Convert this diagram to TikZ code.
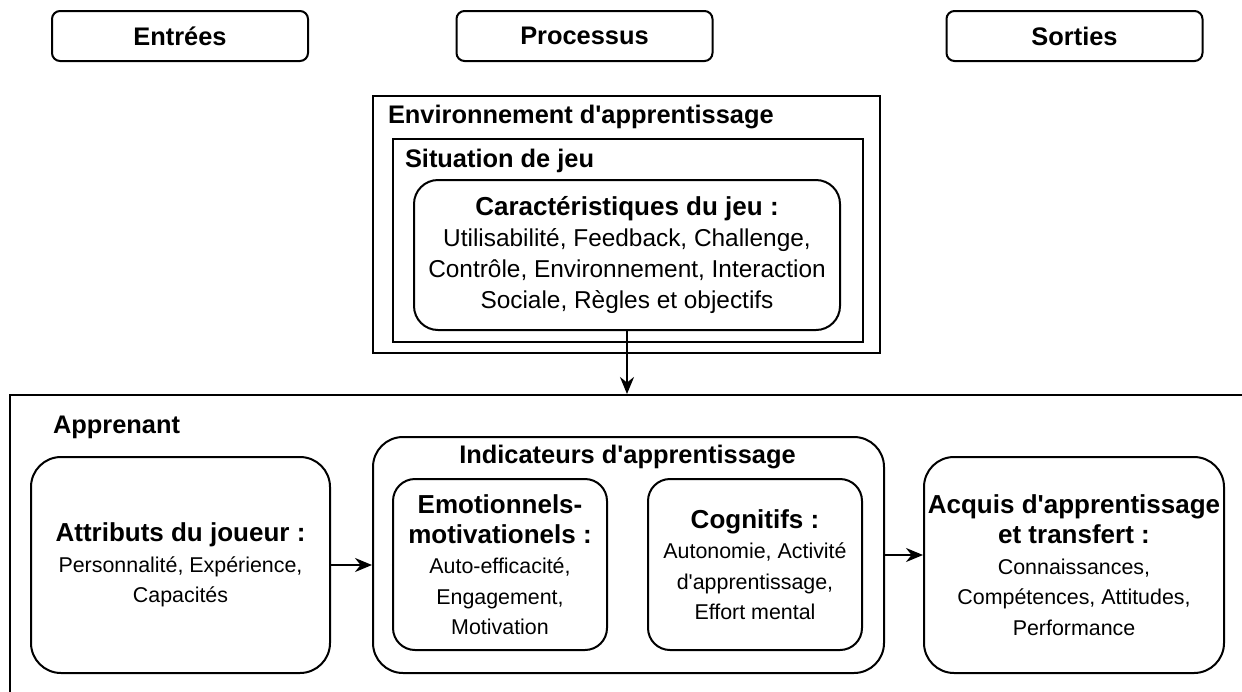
\documentclass[tikz,border=0pt]{standalone}
\usepackage{fontspec}
\setmainfont{Liberation Sans}[Ligatures=TeXOff]
\usepackage{tikz}
\usetikzlibrary{arrows.meta}
\newcommand{\ttl}[1]{{\bfseries\fontsize{13}{15.5}\selectfont #1}}
\tikzset{
    head/.style={draw, rounded corners=4pt, minimum width=128pt, minimum height=25pt,
        font=\bfseries\fontsize{12.7}{15}\selectfont},
    frame/.style={draw, anchor=north west, inner sep=0pt},
    card/.style={draw, rounded corners=15pt, align=center, inner sep=0pt,
        font=\fontsize{10.7}{15.2}\selectfont},
    lbl/.style={anchor=base west, inner sep=0pt, font=\bfseries\fontsize{12.7}{15}\selectfont},
    flow/.style={-{Stealth[length=8.5pt,width=7pt]}}
}

\begin{document}
\begin{tikzpicture}[x=0.5pt, y=-0.5pt, line width=1pt]
		\useasboundingbox (0,0) rectangle (1242,691);

		% top row
		\node[head] (entrees) at (180,36) {Entrées};
		\node[head] (processus) at (584.5,36) {Processus};
		\node[head] (sorties) at (1074.5,36) {Sorties};

		% environment
		\node[frame, minimum width=253.5pt, minimum height=128.5pt] (env) at (372,95) {};
		\node[lbl] (envlbl) at (387,123) {Environnement d'apprentissage};
		\node[frame, minimum width=235pt, minimum height=101.5pt] (sit) at (392,138) {};
		\node[lbl] (sitlbl) at (404,167) {Situation de jeu};
		\node[card, rounded corners=12pt, minimum width=213pt, minimum height=75pt,
		    font=\fontsize{12.2}{15.5}\selectfont] (carac) at (627,255)
		    {\ttl{Caractéristiques du jeu :}\\Utilisabilité, Feedback, Challenge,\\
		     Contrôle, Environnement, Interaction\\Sociale, Règles et objectifs};

		% learner
		\node[frame, minimum width=640pt, minimum height=170pt] (app) at (9,394) {};
		\node[lbl] (applbl) at (52,433) {Apprenant};
		\node[card, minimum width=149.5pt, minimum height=108pt] (attr) at (180.5,565)
		    {\ttl{Attributs du joueur :}\\Personnalité, Expérience,\\Capacités};
		\node[card, anchor=north west, minimum width=255.5pt, minimum height=118pt] (ind) at (372,436) {};
		\node[anchor=base, inner sep=0pt, font=\bfseries\fontsize{12.7}{15}\selectfont] (indlbl) at (627.5,463)
		    {Indicateurs d'apprentissage};
		\node[card, rounded corners=11pt, minimum width=107pt, minimum height=85.5pt] (emo) at (500,564.5)
		    {\ttl{Emotionnels-}\\\ttl{motivationels :}\\Auto-efficacité,\\Engagement,\\Motivation};
		\node[card, rounded corners=11pt, minimum width=107pt, minimum height=85.5pt] (cog) at (755,564.5)
		    {\ttl{Cognitifs :}\\Autonomie, Activité\\d'apprentissage,\\Effort mental};
		\node[card, minimum width=150pt, minimum height=108pt] (acq) at (1074,565)
		    {\ttl{Acquis d'apprentissage}\\\ttl{et transfert :}\\Connaissances,\\Compétences, Attitudes,\\Performance};

		% arrows
		\draw[flow] (carac.south) -- (carac.south |- app.north);
		\draw[flow] (attr.east) -- (attr.east -| ind.west);
		\draw[flow] (ind.east) -- (ind.east -| acq.west);
\end{tikzpicture}
\end{document}
